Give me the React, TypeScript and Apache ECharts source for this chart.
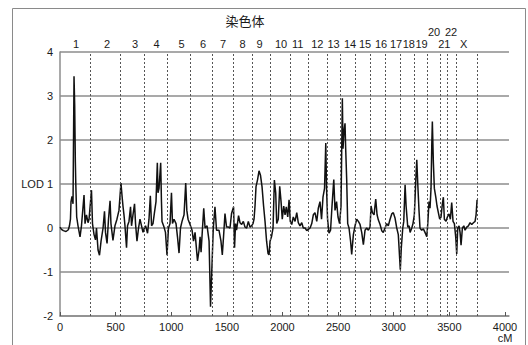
import React, { useEffect, useRef } from 'react';
import * as echarts from 'echarts';

const chromosomeNames = ['1', '2', '3', '4', '5', '6', '7', '8', '9', '10', '11', '12', '13', '14', '15', '16', '17', '18', '19', '20', '21', '22', 'X'];
const labelCentersCM = [144, 423, 674, 868, 1092, 1286, 1465, 1642, 1794, 1987, 2137, 2313, 2459, 2607, 2742, 2886, 3021, 3135, 3250, 3362, 3455, 3515, 3629];
const raisedLabels = ['20', '22'];
const boundariesCM = [276, 542, 758, 968, 1175, 1369, 1558, 1729, 1888, 2070, 2232, 2400, 2521, 2652, 2787, 2928, 3057, 3185, 3297, 3416, 3485, 3560, 3749];

const positionsCM = [
  0, 13, 30, 54, 75, 85, 94, 99, 108, 117, 126, 132, 138, 142, 150, 162, 180, 193, 216, 225, 238, 252, 261, 283,
  292, 306, 319, 328, 342, 355, 369, 387, 400, 409, 423, 436, 450, 458, 476, 494, 512, 530, 548,
  557, 566, 575, 584, 598, 607, 620, 634, 643, 656, 670, 679, 692, 706, 719, 733, 746, 758,
  769, 787, 800, 812, 823, 836, 849, 863, 875, 881, 890, 905, 912, 917, 935, 948, 962,
  975, 989, 1002, 1011, 1025, 1043, 1056, 1070, 1083, 1097, 1115, 1130, 1140, 1151, 1169,
  1187, 1200, 1214, 1236, 1250, 1259, 1268, 1281, 1292, 1304, 1322, 1340, 1353, 1364, 1378,
  1393, 1407, 1429, 1447, 1459, 1470, 1483, 1497, 1515, 1528, 1542, 1560, 1569,
  1578, 1587, 1605, 1618, 1633, 1648, 1663, 1678, 1693, 1708, 1722, 1735,
  1744, 1753, 1762, 1776, 1789, 1802, 1816, 1830, 1843, 1857, 1870, 1879, 1888,
  1901, 1915, 1927, 1939, 1948, 1962, 1975, 1987, 1998, 2011, 2023, 2034, 2047, 2059, 2070,
  2083, 2097, 2113, 2128, 2142, 2157, 2173, 2187, 2203, 2218, 2232,
  2248, 2263, 2277, 2292, 2308, 2322, 2337, 2351, 2364, 2378, 2389, 2396, 2405,
  2418, 2432, 2445, 2461, 2472, 2486, 2499, 2513,
  2526, 2538, 2544, 2553, 2562, 2568, 2577, 2586, 2598, 2612, 2622, 2637, 2652,
  2667, 2682, 2697, 2712, 2727, 2742, 2757, 2772, 2787,
  2796, 2808, 2823, 2838, 2850, 2862, 2877, 2892, 2906, 2922,
  2937, 2951, 2967, 2982, 2996, 3012, 3027, 3041, 3050, 3059, 3068,
  3081, 3090, 3102, 3111, 3126, 3138, 3147, 3162, 3173, 3185,
  3191, 3200, 3207, 3216, 3227, 3236, 3251, 3266, 3281, 3297,
  3306, 3317, 3326, 3335, 3342, 3347, 3356, 3365, 3378, 3389, 3401, 3413,
  3425, 3437, 3446, 3455, 3470, 3482,
  3497, 3509, 3521, 3533, 3545, 3557, 3566,
  3575, 3587, 3596, 3605, 3617, 3630, 3641, 3656, 3671, 3686, 3701, 3716, 3731, 3740, 3749,
];

const lodScores = [
  0.02, -0.03, -0.06, -0.08, -0.04, 0.05, 0.2, 0.6, 0.72, 0.55, 3.45, 2.8, 1.5, 1.0, 0.25, 0.05, -0.2, 0.05, 0.75, 0.1, 0.3, 0.12, 0.2, 0.86,
  0.1, -0.15, -0.27, 0.0, -0.5, -0.62, -0.3, 0.0, 0.38, -0.1, -0.35, 0.2, 0.62, 0.1, -0.28, 0.05, 0.2, 0.4, 1.02,
  0.75, 0.5, 0.3, 0.05, -0.45, 0.05, 0.15, 0.48, 0.05, 0.3, 0.55, 0.1, -0.3, 0.0, 0.2, 0.05, -0.1, 0.0,
  0.05, -0.12, 0.2, 0.73, 0.05, 0.1, 0.35, 0.6, 1.48, 0.8, 0.9, 1.48, 0.6, 0.15, 0.02, -0.1, -0.62,
  0.0, 0.1, 0.8, 0.1, 0.2, 0.1, -0.2, -0.57, 0.0, 0.15, 0.3, 1.02, 0.4, 0.2, 0.08,
  -0.05, -0.3, -0.1, -0.75, -0.5, -0.2, -0.55, 0.0, 0.45, 0.0, 0.05, -0.3, -1.79, -1.0, 0.0,
  0.48, -0.05, -0.05, -0.3, -0.61, -0.2, 0.33, 0.02, 0.02, 0.0, 0.33, 0.48, -0.45,
  0.1, -0.05, 0.28, 0.12, 0.08, 0.15, 0.02, 0.0, 0.15, 0.02, 0.05, 0.1,
  0.2, 0.5, 0.94, 1.1, 1.3, 1.2, 0.94, 0.5, 0.15, -0.3, -0.58, -0.61, -0.3,
  -0.2, 0.0, 1.09, 0.8, 0.1, 0.2, 0.95, 0.6, 0.2, 0.5, 0.3, 0.48, 0.25, 0.64, 0.15,
  0.08, 0.25, 0.15, 0.35, 0.12, 0.05, 0.12, 0.0, 0.0, -0.06, -0.03,
  0.0, 0.1, 0.3, 0.35, 0.15, 0.45, 0.6, 0.2, 0.7, 0.9, 1.93, 0.9, 0.2,
  -0.12, -0.05, 0.5, 1.1, 0.4, 0.6, 0.25, 0.1,
  0.5, 2.95, 1.8, 2.2, 2.38, 1.8, 1.1, 0.1, 0.0, -0.3, -0.6, -0.15, 0.05,
  0.2, 0.15, 0.08, -0.1, -0.38, -0.05, 0.0, -0.05, 0.02,
  0.5, 0.35, 0.3, 0.66, 0.3, 0.18, 0.08, -0.06, -0.1, 0.0,
  0.1, 0.05, 0.2, 0.32, 0.35, 0.22, 0.0, -0.15, -0.55, -0.95, -0.45,
  0.0, 0.15, 0.98, 0.5, 0.02, 0.05, -0.1, 0.0, 0.1, 0.3,
  0.64, 1.2, 1.55, 1.0, 0.4, 0.0, -0.05, -0.02, -0.1, -0.2,
  0.1, 0.6, 0.45, 0.9, 1.9, 2.42, 1.5, 0.9, 0.7, 0.5, 0.35, 0.2,
  0.25, 0.55, 0.7, 0.2, 0.15, 0.25,
  0.32, 0.2, 0.58, 0.15, 0.1, -0.2, -0.59,
  0.0, 0.05, -0.1, -0.39, 0.0, 0.05, -0.05, 0.02, 0.05, 0.12, 0.08, 0.12, 0.15, 0.3, 0.64,
];

const xTickValues = [0, 500, 1000, 1500, 2000, 2500, 3000, 3500, 4000];
const xAxisMax = 4036;
const yMin = -2;
const yMax = 4;
const titleText = '染色体';
const yAxisName = 'LOD';
const xAxisUnit = 'cM';

const FONT = '"Liberation Sans", Arial, sans-serif';
const TEXT_COLOR = '#1a1a1a';
const GRID_COLOR = '#8c8c8c';

export default function App() {
  const ref = useRef<HTMLDivElement>(null);

  useEffect(() => {
    if (!ref.current) return;
    const chart = echarts.init(ref.current, null, { renderer: 'svg' });

    const nameAt = (v: number) => {
      const i = labelCentersCM.indexOf(v);
      return i >= 0 ? chromosomeNames[i] : '';
    };
    const lowerCenters = labelCentersCM.filter((_, i) => !raisedLabels.includes(chromosomeNames[i]));
    const upperCenters = labelCentersCM.filter((_, i) => raisedLabels.includes(chromosomeNames[i]));

    const topAxisBase = {
      type: 'value',
      min: 0,
      max: xAxisMax,
      position: 'top',
      axisLine: { show: false },
      axisTick: { show: false },
      splitLine: { show: false },
    };

    chart.setOption({
      animation: false,
      backgroundColor: '#fff',
      grid: { left: 60, top: 52, right: 19, bottom: 29, containLabel: false, outerBoundsMode: 'none' },
      graphic: [
        {
          type: 'rect',
          silent: true,
          z: -10,
          shape: { x: 12.5, y: 8.5, width: 513, height: 360 },
          style: { fill: 'none', stroke: '#8a8a8a', lineWidth: 1 },
        },
        {
          type: 'text',
          x: 245,
          y: 20,
          style: {
            text: titleText,
            fontSize: 13,
            fontFamily: '"Noto Sans CJK SC", sans-serif',
            fill: TEXT_COLOR,
            align: 'center',
            verticalAlign: 'middle',
          },
        },
      ],
      xAxis: [
        {
          type: 'value',
          min: 0,
          max: xAxisMax,
          position: 'bottom',
          axisLine: { show: true, onZero: false, lineStyle: { color: GRID_COLOR, width: 1.5 } },
          axisTick: { show: true, inside: true, length: 4, customValues: xTickValues, lineStyle: { color: '#555', width: 1 } },
          axisLabel: {
            customValues: xTickValues,
            formatter: (v: number) => (v === 4000 ? `${v}\n${xAxisUnit}` : String(v)),
            color: TEXT_COLOR,
            fontSize: 11,
            fontFamily: FONT,
            lineHeight: 11,
            margin: 5,
          },
          splitLine: { show: false },
        },
        {
          ...topAxisBase,
          axisLabel: {
            customValues: lowerCenters,
            formatter: (v: number) => nameAt(v),
            color: TEXT_COLOR,
            fontSize: 11,
            fontFamily: FONT,
            margin: 3,
          },
        },
        {
          ...topAxisBase,
          offset: 12,
          axisLabel: {
            customValues: upperCenters,
            formatter: (v: number) => nameAt(v),
            color: TEXT_COLOR,
            fontSize: 11,
            fontFamily: FONT,
            margin: 3,
          },
        },
      ],
      yAxis: {
        type: 'value',
        min: yMin,
        max: yMax,
        interval: 1,
        axisLine: { show: true, lineStyle: { color: GRID_COLOR, width: 1.5 } },
        axisTick: { show: false },
        splitLine: { show: true, lineStyle: { color: GRID_COLOR, width: 1.5 } },
        axisLabel: {
          formatter: (v: number) => (v === 1 ? `${yAxisName} 1` : String(v)),
          color: TEXT_COLOR,
          fontSize: 11,
          fontFamily: FONT,
          margin: 7,
          padding: [3, 0, 0, 0],
        },
      },
      series: [
        {
          type: 'line',
          xAxisIndex: 0,
          data: positionsCM.map((x, i) => [x, lodScores[i]]),
          showSymbol: false,
          symbol: 'none',
          lineStyle: { color: '#111', width: 1.5 },
          silent: true,
          markLine: {
            silent: true,
            symbol: ['none', 'none'],
            label: { show: false },
            lineStyle: { type: [2, 2], color: '#555', width: 1 },
            emphasis: { disabled: true },
            data: boundariesCM.map((v) => ({ xAxis: v })),
          },
        },
      ],
    });

    return () => chart.dispose();
  }, []);

  return (
    <div
      ref={ref}
      style={{ position: 'fixed', left: 0, top: 0, width: 528, height: 345, background: '#fff' }}
    />
  );
}
